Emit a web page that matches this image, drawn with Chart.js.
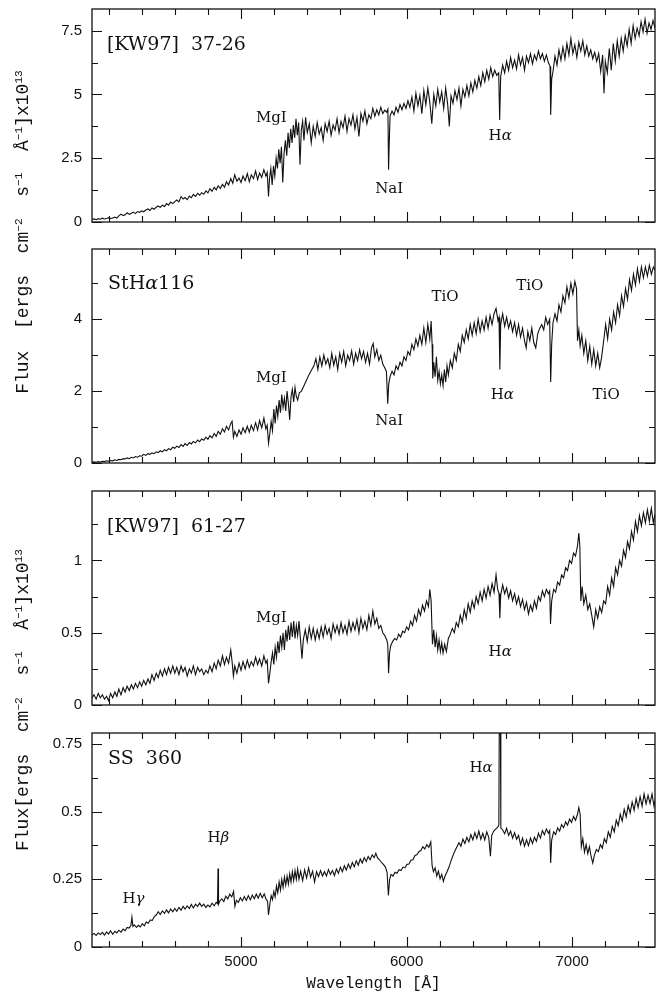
<!DOCTYPE html>
<html>
<head>
<meta charset="utf-8">
<script src="https://cdn.jsdelivr.net/npm/chart.js@4.4.0/dist/chart.umd.min.js"></script>
<style>
body { margin: 0; background: #fff; }
#wrap { position: relative; width: 663px; height: 996px; overflow: hidden; }
canvas { position: absolute; left: 0; }
.ytitle {
  position: absolute; left: 23px; white-space: pre; line-height: 1;
  font: 18px "Liberation Mono", monospace; color: #111;
  transform: translate(-50%, -50%) rotate(-90deg);
}
.ytitle sup { font-size: 62%; vertical-align: 0.55em; line-height: 0; }
</style>
</head>
<body>
<div id="wrap">
  <canvas id="p1"></canvas>
  <canvas id="p2"></canvas>
  <canvas id="p3"></canvas>
  <canvas id="p4"></canvas>
  <div class="ytitle" style="top:232px">Flux  [ergs  cm<sup>−2</sup>  s<sup>−1</sup>  Å<sup>−1</sup>]x10<sup>13</sup></div>
  <div class="ytitle" style="top:700px">Flux[ergs  cm<sup>−2</sup>  s<sup>−1</sup>  Å<sup>−1</sup>]x10<sup>13</sup></div>
</div>
<script>
// shared wavelength axis
const xMin = 4100, xMax = 7500;
const xMajor = [5000, 6000, 7000];
const xMinor = [4200, 4400, 4600, 4800, 5200, 5400, 5600, 5800, 6200, 6400, 6600, 6800, 7200, 7400];

// [KW97] 37-26  [wavelength, flux]
const spec1 = [
  [4100,.10],[4112,.12],[4125,.09],[4138,.13],[4150,.11],[4163,.15],[4175,.12],[4188,.14],[4200,.17],[4212,.13],
  [4225,.16],[4238,.19],[4250,.15],[4262,.24],[4275,.31],[4288,.25],[4300,.28],[4312,.36],[4325,.30],[4338,.34],
  [4350,.39],[4362,.33],[4375,.41],[4388,.38],[4400,.44],[4412,.40],[4425,.47],[4438,.51],[4450,.45],[4462,.55],
  [4475,.50],[4488,.58],[4500,.63],[4512,.57],[4525,.66],[4538,.61],[4550,.72],[4562,.66],[4575,.78],[4588,.72],
  [4600,.80],[4612,.86],[4625,.79],[4638,1.00],[4650,.90],[4662,.96],[4675,.88],[4688,1.02],[4700,.95],[4712,1.08],
  [4725,1.00],[4738,1.12],[4750,1.05],[4762,1.15],[4775,1.09],[4788,1.22],[4800,1.14],[4812,1.30],[4825,1.20],[4838,1.36],
  [4850,1.26],[4862,1.42],[4875,1.31],[4888,1.48],[4900,1.36],[4912,1.58],[4925,1.45],[4938,1.70],[4950,1.52],[4962,1.85],
  [4975,1.60],[4988,1.72],[5000,1.55],[5012,1.80],[5025,1.62],[5038,1.90],[5050,1.58],[5062,1.85],[5075,1.70],[5088,2.00],
  [5100,1.66],[5112,1.92],[5125,1.75],[5138,2.05],[5150,1.80],[5158,1.95],[5166,1.00],[5172,1.70],[5180,2.10],[5188,1.45],
  [5196,2.20],[5204,1.80],[5212,2.50],[5220,2.10],[5228,2.85],[5236,2.30],[5244,2.95],[5252,1.55],[5260,2.70],[5268,3.20],
  [5276,2.60],[5284,3.50],[5292,2.90],[5300,3.65],[5308,3.10],[5316,3.80],[5324,3.30],[5332,4.05],[5340,3.40],[5348,3.90],
  [5356,2.25],[5364,3.60],[5372,3.95],[5380,3.20],[5390,4.10],[5400,3.50],[5412,3.85],[5424,3.10],[5436,3.75],[5448,3.35],
  [5460,3.90],[5472,3.45],[5484,3.70],[5496,3.20],[5508,3.85],[5520,3.55],[5532,3.95],[5544,3.40],[5556,3.80],[5568,3.60],
  [5580,4.05],[5592,3.50],[5604,3.95],[5616,3.70],[5628,4.15],[5640,3.55],[5652,4.05],[5664,3.80],[5676,4.20],[5688,3.65],
  [5700,4.10],[5712,3.35],[5724,4.25],[5736,3.95],[5748,4.35],[5760,3.85],[5772,4.20],[5784,4.05],[5796,4.45],[5808,4.15],
  [5820,4.40],[5832,4.20],[5844,4.50],[5856,4.25],[5868,4.38],[5880,4.30],[5887,4.42],[5891,2.05],[5895,3.10],[5900,4.15],
  [5912,4.35],[5924,4.20],[5936,4.50],[5948,4.30],[5960,4.60],[5972,4.40],[5984,4.65],[5996,4.45],[6008,4.75],[6020,4.50],
  [6032,4.90],[6044,4.35],[6056,5.05],[6068,4.55],[6080,4.95],[6092,4.25],[6104,5.15],[6116,4.60],[6128,5.25],[6140,4.70],
  [6152,3.85],[6164,5.00],[6176,4.55],[6188,5.20],[6200,4.70],[6212,5.10],[6224,4.45],[6236,5.25],[6248,4.60],[6258,3.75],
  [6268,4.95],[6280,4.65],[6292,5.15],[6304,4.80],[6316,5.25],[6328,4.55],[6340,5.20],[6352,4.90],[6364,5.35],[6376,4.95],
  [6388,5.45],[6400,5.10],[6412,5.55],[6424,5.25],[6436,5.70],[6448,5.35],[6460,5.85],[6472,5.50],[6484,5.95],[6496,5.60],
  [6508,6.05],[6520,5.70],[6532,5.95],[6544,5.75],[6556,5.85],[6562,4.00],[6568,5.70],[6580,6.15],[6592,5.85],[6604,6.30],
  [6616,5.95],[6628,6.45],[6640,6.05],[6652,6.35],[6664,6.00],[6676,6.55],[6688,6.15],[6700,6.45],[6712,5.95],[6724,6.50],
  [6736,6.25],[6748,6.60],[6760,6.20],[6772,6.55],[6784,6.35],[6796,6.70],[6808,6.40],[6820,6.60],[6832,6.30],[6844,6.55],
  [6856,6.25],[6866,6.10],[6870,4.20],[6876,5.60],[6884,5.90],[6896,6.50],[6908,6.15],[6920,6.75],[6932,6.35],[6944,6.85],
  [6956,6.40],[6968,7.00],[6980,6.55],[6992,7.20],[7004,6.60],[7016,6.95],[7028,6.45],[7040,7.05],[7052,6.70],[7064,7.10],
  [7076,6.55],[7088,6.90],[7100,6.50],[7112,6.75],[7124,6.40],[7136,6.65],[7148,6.30],[7160,6.60],[7172,5.90],[7184,6.55],
  [7192,5.05],[7200,6.30],[7212,5.85],[7224,6.80],[7236,5.95],[7248,7.00],[7260,6.30],[7272,7.10],[7284,6.50],[7296,7.20],
  [7308,6.70],[7320,7.30],[7332,6.90],[7344,7.55],[7356,7.00],[7368,7.70],[7380,7.20],[7392,7.60],[7404,7.30],[7416,7.85],
  [7428,7.45],[7440,7.95],[7452,7.40],[7464,7.80],[7476,7.55],[7488,7.90],[7500,7.60]
];

// StHa 116
const spec2 = [
  [4100,.02],[4112,.03],[4125,.02],[4138,.04],[4150,.03],[4163,.05],[4175,.04],[4188,.06],[4200,.05],[4212,.07],
  [4225,.06],[4238,.09],[4250,.07],[4262,.10],[4275,.09],[4288,.12],[4300,.11],[4312,.14],[4325,.12],[4338,.16],
  [4350,.14],[4362,.18],[4375,.16],[4388,.20],[4400,.19],[4412,.24],[4425,.21],[4438,.26],[4450,.24],[4462,.28],
  [4475,.26],[4488,.31],[4500,.29],[4512,.34],[4525,.31],[4538,.37],[4550,.34],[4562,.40],[4575,.37],[4588,.44],
  [4600,.41],[4612,.47],[4625,.43],[4638,.51],[4650,.46],[4662,.54],[4675,.49],[4688,.57],[4700,.53],[4712,.60],
  [4725,.56],[4738,.64],[4750,.59],[4762,.67],[4775,.63],[4788,.72],[4800,.66],[4812,.76],[4825,.70],[4838,.82],
  [4850,.74],[4862,.88],[4875,.80],[4888,.95],[4900,.86],[4912,1.02],[4925,.92],[4938,1.10],[4946,1.16],[4954,.72],
  [4962,.88],[4975,.74],[4988,.92],[5000,.80],[5012,.98],[5025,.84],[5038,1.02],[5050,.86],[5062,1.05],[5075,.90],
  [5088,1.12],[5100,.92],[5112,1.18],[5125,.98],[5138,1.25],[5150,.95],[5158,1.05],[5166,.55],[5174,.82],[5182,1.15],
  [5190,.90],[5198,1.50],[5206,1.10],[5214,1.60],[5222,1.30],[5230,1.75],[5238,1.40],[5246,1.90],[5254,1.55],[5262,1.80],
  [5270,1.45],[5278,2.00],[5286,1.65],[5294,1.20],[5302,1.85],[5310,2.05],[5318,1.70],[5326,2.10],[5334,1.85],[5342,1.75],
  [5352,1.95],[5365,2.00],[5380,2.15],[5395,2.30],[5410,2.45],[5425,2.58],[5440,2.70],[5452,2.90],[5464,2.60],[5476,2.95],
  [5488,2.70],[5500,3.00],[5512,2.75],[5524,2.90],[5536,2.65],[5548,3.05],[5560,2.72],[5572,2.95],[5584,2.60],[5596,3.05],
  [5608,2.80],[5620,3.10],[5632,2.70],[5644,3.00],[5656,2.85],[5668,3.12],[5680,2.75],[5692,3.05],[5704,2.85],[5716,3.15],
  [5728,2.90],[5740,3.10],[5752,2.80],[5764,3.05],[5776,2.75],[5788,3.20],[5798,3.32],[5808,2.95],[5820,3.15],[5832,2.85],
  [5844,3.00],[5856,2.75],[5868,2.65],[5878,2.55],[5886,1.65],[5892,2.20],[5900,2.40],[5912,2.55],[5924,2.45],[5936,2.70],
  [5948,2.60],[5960,2.80],[5972,2.70],[5984,2.95],[5996,2.85],[6008,3.10],[6020,3.00],[6032,3.30],[6044,3.15],[6056,3.45],
  [6068,3.25],[6080,3.55],[6092,3.30],[6104,3.75],[6116,3.35],[6128,3.85],[6140,3.45],[6148,3.95],[6154,3.30],[6158,2.35],
  [6164,2.80],[6172,2.40],[6180,2.95],[6188,2.30],[6196,2.55],[6204,2.20],[6212,2.45],[6220,2.15],[6228,2.60],[6236,2.25],
  [6244,2.70],[6252,2.45],[6264,2.85],[6276,2.65],[6288,3.05],[6300,2.85],[6312,3.30],[6324,3.10],[6336,3.55],[6348,3.35],
  [6360,3.70],[6372,3.45],[6384,3.85],[6396,3.55],[6408,3.90],[6420,3.60],[6432,4.00],[6444,3.65],[6456,3.95],[6468,3.70],
  [6480,4.05],[6492,3.75],[6504,4.10],[6516,3.85],[6528,4.15],[6540,4.30],[6552,3.95],[6558,4.05],[6563,2.60],[6568,3.85],
  [6580,4.15],[6592,3.80],[6604,4.05],[6616,3.75],[6628,3.95],[6640,3.65],[6652,3.90],[6664,3.55],[6676,3.85],[6688,3.50],
  [6700,3.75],[6712,3.40],[6722,3.20],[6732,3.65],[6744,3.40],[6756,3.75],[6768,3.35],[6780,3.20],[6792,3.60],[6804,3.75],
  [6816,3.85],[6828,3.70],[6840,4.05],[6852,3.85],[6864,4.00],[6870,2.25],[6876,3.30],[6884,3.90],[6896,4.15],[6908,3.95],
  [6920,4.40],[6932,4.20],[6944,4.65],[6956,4.45],[6968,4.90],[6980,4.60],[6992,5.00],[7004,4.70],[7016,5.05],[7026,4.85],
  [7032,3.40],[7040,3.70],[7048,3.25],[7058,3.55],[7070,3.05],[7082,3.40],[7094,2.85],[7106,3.25],[7118,2.75],[7130,3.15],
  [7142,2.70],[7154,3.05],[7166,2.65],[7178,2.95],[7190,3.40],[7202,3.85],[7214,3.45],[7226,4.00],[7238,3.70],[7250,4.20],
  [7262,3.90],[7274,4.40],[7286,4.10],[7298,4.65],[7310,4.35],[7322,4.85],[7334,4.55],[7346,5.10],[7358,4.80],[7370,5.25],
  [7382,4.95],[7394,5.40],[7406,5.05],[7418,5.45],[7430,5.15],[7442,5.45],[7454,5.20],[7466,5.50],[7478,5.25],[7490,5.45],
  [7500,5.35]
];

// [KW97] 61-27
const spec3 = [
  [4100,.05],[4112,.07],[4125,.04],[4138,.08],[4150,.05],[4163,.07],[4175,.04],[4188,.06],[4200,.03],[4212,.08],
  [4225,.05],[4238,.09],[4250,.06],[4262,.11],[4275,.07],[4288,.12],[4300,.09],[4312,.13],[4325,.10],[4338,.14],
  [4350,.11],[4362,.15],[4375,.12],[4388,.16],[4400,.13],[4412,.17],[4425,.14],[4438,.18],[4450,.15],[4462,.21],
  [4475,.17],[4488,.22],[4500,.19],[4512,.24],[4525,.20],[4538,.25],[4550,.21],[4562,.26],[4575,.22],[4588,.27],
  [4600,.22],[4612,.26],[4625,.21],[4638,.27],[4650,.23],[4662,.26],[4675,.20],[4688,.25],[4700,.22],[4712,.27],
  [4725,.21],[4738,.26],[4750,.23],[4762,.25],[4775,.21],[4788,.24],[4800,.22],[4812,.27],[4825,.23],[4838,.29],
  [4850,.25],[4862,.31],[4875,.27],[4888,.34],[4900,.28],[4912,.33],[4925,.29],[4938,.38],[4946,.30],[4954,.20],
  [4962,.27],[4975,.22],[4988,.29],[5000,.24],[5012,.30],[5025,.25],[5038,.31],[5050,.26],[5062,.30],[5075,.27],
  [5088,.33],[5100,.28],[5112,.32],[5125,.27],[5138,.34],[5150,.29],[5158,.31],[5166,.15],[5174,.22],[5182,.30],
  [5190,.36],[5198,.28],[5206,.40],[5214,.33],[5222,.44],[5230,.36],[5238,.48],[5246,.40],[5254,.50],[5262,.38],
  [5270,.52],[5278,.44],[5286,.55],[5294,.45],[5302,.57],[5310,.47],[5318,.58],[5326,.46],[5334,.55],[5342,.48],
  [5350,.58],[5360,.44],[5368,.32],[5376,.45],[5388,.52],[5400,.44],[5412,.54],[5424,.46],[5436,.53],[5448,.45],
  [5460,.52],[5472,.46],[5484,.54],[5496,.47],[5508,.55],[5520,.49],[5532,.53],[5544,.46],[5556,.56],[5568,.50],
  [5580,.55],[5592,.49],[5604,.57],[5616,.50],[5628,.55],[5640,.49],[5652,.58],[5664,.51],[5676,.57],[5688,.52],
  [5700,.59],[5712,.50],[5724,.60],[5736,.53],[5748,.58],[5760,.52],[5772,.62],[5784,.55],[5796,.65],[5808,.56],
  [5820,.60],[5832,.53],[5844,.55],[5856,.50],[5868,.48],[5880,.45],[5886,.42],[5891,.22],[5897,.36],[5904,.41],
  [5916,.44],[5928,.46],[5940,.45],[5952,.49],[5964,.47],[5976,.51],[5988,.50],[6000,.54],[6012,.52],[6024,.58],
  [6036,.55],[6048,.62],[6060,.58],[6072,.66],[6084,.62],[6096,.69],[6108,.65],[6120,.72],[6132,.68],[6140,.80],
  [6148,.72],[6156,.42],[6164,.52],[6172,.40],[6180,.48],[6188,.38],[6196,.45],[6204,.37],[6212,.43],[6220,.36],
  [6230,.42],[6240,.37],[6252,.46],[6264,.49],[6276,.53],[6288,.50],[6300,.57],[6312,.54],[6324,.62],[6336,.57],
  [6348,.66],[6360,.60],[6372,.70],[6384,.64],[6396,.72],[6408,.67],[6420,.75],[6432,.70],[6444,.78],[6456,.72],
  [6468,.80],[6480,.74],[6492,.82],[6504,.76],[6516,.84],[6528,.78],[6540,.90],[6550,.80],[6558,.77],[6563,.60],
  [6568,.76],[6580,.83],[6592,.77],[6604,.81],[6616,.74],[6628,.79],[6640,.72],[6652,.77],[6664,.70],[6676,.75],
  [6688,.68],[6700,.73],[6712,.66],[6724,.71],[6736,.63],[6748,.69],[6760,.65],[6772,.72],[6784,.67],[6796,.75],
  [6808,.72],[6820,.79],[6832,.75],[6844,.80],[6856,.77],[6864,.79],[6869,.56],[6876,.72],[6888,.80],[6900,.78],
  [6912,.85],[6924,.83],[6936,.90],[6948,.88],[6960,.95],[6972,.93],[6984,1.00],[6996,.98],[7008,1.05],[7020,1.03],
  [7032,1.10],[7040,1.19],[7046,1.10],[7052,.72],[7060,.82],[7070,.70],[7082,.76],[7094,.66],[7106,.70],[7118,.62],
  [7130,.54],[7142,.66],[7154,.60],[7166,.68],[7178,.64],[7190,.72],[7202,.70],[7214,.82],[7226,.76],[7238,.88],
  [7250,.82],[7262,.95],[7274,.90],[7286,1.00],[7298,.96],[7310,1.07],[7322,1.02],[7334,1.13],[7346,1.08],[7358,1.20],
  [7370,1.14],[7382,1.27],[7394,1.20],[7406,1.31],[7418,1.24],[7430,1.33],[7442,1.26],[7454,1.35],[7466,1.27],[7478,1.36],
  [7490,1.26],[7500,1.32]
];

// SS 360
const spec4 = [
  [4100,.045],[4112,.050],[4125,.043],[4138,.052],[4150,.046],[4163,.054],[4175,.044],[4188,.056],[4200,.048],[4212,.060],
  [4225,.047],[4238,.058],[4250,.052],[4262,.062],[4275,.055],[4288,.066],[4300,.060],[4312,.072],[4325,.070],[4335,.080],
  [4341,.110],[4347,.076],[4356,.082],[4368,.072],[4380,.080],[4392,.074],[4404,.086],[4416,.078],[4428,.092],[4440,.088],
  [4452,.100],[4464,.098],[4476,.112],[4488,.118],[4500,.130],[4512,.120],[4525,.133],[4538,.124],[4550,.137],[4562,.126],
  [4575,.140],[4588,.130],[4600,.142],[4612,.132],[4625,.146],[4638,.136],[4650,.150],[4662,.140],[4675,.152],[4688,.142],
  [4700,.157],[4712,.144],[4725,.158],[4738,.150],[4750,.162],[4762,.150],[4775,.158],[4788,.146],[4800,.155],[4812,.148],
  [4825,.162],[4838,.152],[4850,.165],[4858,.160],[4861,.290],[4864,.158],[4872,.170],[4884,.178],[4896,.168],[4908,.188],
  [4920,.178],[4932,.195],[4944,.185],[4955,.205],[4963,.150],[4972,.172],[4984,.165],[4996,.182],[5008,.170],[5020,.186],
  [5032,.172],[5044,.190],[5056,.174],[5068,.192],[5080,.178],[5092,.195],[5104,.180],[5116,.198],[5128,.182],[5140,.196],
  [5152,.175],[5160,.170],[5166,.118],[5174,.158],[5182,.190],[5190,.175],[5198,.205],[5206,.185],[5214,.225],[5222,.200],
  [5230,.240],[5238,.210],[5246,.250],[5254,.220],[5262,.258],[5270,.228],[5278,.262],[5286,.232],[5294,.270],[5302,.240],
  [5310,.278],[5318,.245],[5326,.282],[5334,.250],[5342,.288],[5350,.250],[5360,.280],[5372,.245],[5384,.285],[5396,.255],
  [5408,.292],[5420,.258],[5432,.280],[5444,.240],[5456,.278],[5468,.260],[5480,.282],[5492,.262],[5504,.278],[5516,.262],
  [5528,.286],[5540,.268],[5552,.282],[5564,.264],[5576,.288],[5588,.272],[5600,.294],[5612,.278],[5624,.300],[5636,.284],
  [5648,.306],[5660,.290],[5672,.312],[5684,.296],[5696,.318],[5708,.302],[5720,.325],[5732,.310],[5744,.330],[5756,.316],
  [5768,.334],[5780,.322],[5792,.340],[5804,.330],[5814,.346],[5824,.330],[5836,.322],[5848,.312],[5860,.305],[5872,.295],
  [5882,.275],[5890,.190],[5897,.248],[5906,.268],[5918,.262],[5930,.276],[5942,.272],[5954,.285],[5966,.282],[5978,.295],
  [5990,.292],[6002,.305],[6014,.306],[6026,.320],[6038,.322],[6050,.338],[6062,.340],[6074,.352],[6086,.356],[6098,.370],
  [6110,.362],[6122,.378],[6134,.368],[6146,.388],[6154,.300],[6162,.278],[6172,.292],[6182,.262],[6192,.280],[6202,.252],
  [6212,.268],[6222,.242],[6232,.262],[6244,.278],[6256,.295],[6268,.318],[6280,.338],[6292,.355],[6304,.370],[6316,.385],
  [6328,.372],[6340,.398],[6352,.382],[6364,.405],[6376,.388],[6388,.415],[6400,.395],[6412,.422],[6424,.400],[6436,.428],
  [6448,.398],[6460,.420],[6472,.395],[6484,.425],[6496,.405],[6506,.335],[6514,.412],[6526,.428],[6538,.435],[6550,.442],
  [6557,.450],[6560,.900],[6566,.900],[6569,.440],[6580,.432],[6592,.418],[6604,.438],[6616,.412],[6628,.428],[6640,.402],
  [6652,.422],[6664,.398],[6676,.412],[6688,.378],[6700,.402],[6712,.372],[6724,.396],[6736,.374],[6748,.402],[6760,.382],
  [6772,.405],[6784,.390],[6796,.420],[6808,.402],[6820,.430],[6832,.414],[6844,.436],[6856,.420],[6864,.430],[6870,.310],
  [6876,.395],[6888,.425],[6900,.415],[6912,.440],[6924,.428],[6936,.452],[6948,.440],[6960,.462],[6972,.450],[6984,.472],
  [6996,.460],[7008,.482],[7020,.468],[7032,.490],[7040,.515],[7048,.490],[7055,.370],[7064,.400],[7074,.350],[7084,.378],
  [7094,.345],[7104,.370],[7114,.335],[7124,.310],[7134,.338],[7146,.360],[7158,.352],[7170,.378],[7182,.365],[7194,.400],
  [7206,.385],[7218,.425],[7230,.405],[7242,.445],[7254,.425],[7266,.468],[7278,.448],[7290,.490],[7302,.465],[7314,.508],
  [7326,.480],[7338,.522],[7350,.495],[7362,.535],[7374,.505],[7386,.548],[7398,.515],[7410,.555],[7422,.520],[7434,.565],
  [7446,.528],[7458,.560],[7470,.530],[7482,.565],[7494,.520],[7500,.540]
];

// y tick values per panel
const yMajor1 = [0, 2.5, 5, 7.5],       yMinor1 = [1.25, 3.75, 6.25];
const yMajor2 = [0, 2, 4],              yMinor2 = [1, 3, 5];
const yMajor3 = [0, 0.5, 1],            yMinor3 = [0.25, 0.75, 1.25];
const yMajor4 = [0, 0.25, 0.5, 0.75],   yMinor4 = [0.125, 0.375, 0.625];

// text labels: [text, wavelength, flux, isName]
const notes1 = [['[KW97]  37-26', 4190, 6.94, true], ['MgI', 5183, 4.08], ['NaI', 5895, 1.3], ['Hα', 6565, 3.36]];
const notes2 = [['StHα116', 4197, 4.98, true], ['MgI', 5183, 2.37], ['NaI', 5895, 1.16], ['TiO', 6232, 4.6],
                ['Hα', 6578, 1.9], ['TiO', 6744, 4.93], ['TiO', 7205, 1.9]];
const notes3 = [['[KW97]  61-27', 4190, 1.23, true], ['MgI', 5183, 0.6], ['Hα', 6565, 0.365]];
const notes4 = [['SS  360', 4197, 0.694, true], ['Hγ', 4351, 0.176], ['Hβ', 4863, 0.403], ['Hα', 6450, 0.661]];

const panels = [
  {id: 'p1', top: 9,   bottom: 222, yMax: 8.35, data: spec1, yMajor: yMajor1, yMinor: yMinor1, notes: notes1},
  {id: 'p2', top: 249, bottom: 463, yMax: 5.95, data: spec2, yMajor: yMajor2, yMinor: yMinor2, notes: notes2},
  {id: 'p3', top: 491, bottom: 705, yMax: 1.48, data: spec3, yMajor: yMajor3, yMinor: yMinor3, notes: notes3},
  {id: 'p4', top: 733, bottom: 947, yMax: 0.79, data: spec4, yMajor: yMajor4, yMinor: yMinor4, notes: notes4}
];

const ink = '#111';

// label text with greek letters in italic
function drawNote(ctx, text, px, py, size, alignLeft) {
  const runs = text.split(/([α-ω])/).filter(s => s.length);
  const fontOf = s => (/[α-ω]/.test(s) ? 'italic ' : '') + size + 'px "DejaVu Serif"';
  let w = 0;
  runs.forEach(s => { ctx.font = fontOf(s); w += ctx.measureText(s).width; });
  let cx = alignLeft ? px : px - w / 2;
  ctx.textAlign = 'left';
  runs.forEach(s => { ctx.font = fontOf(s); ctx.fillText(s, cx, py); cx += ctx.measureText(s).width; });
}

// box, inward ticks and line labels
const frameAndNotes = {
  id: 'frameAndNotes',
  afterDatasetsDraw(chart) {
    const p = panels.find(q => q.id === chart.canvas.id);
    const {ctx, chartArea: a, scales: {x, y}} = chart;
    ctx.save();
    ctx.strokeStyle = ink;
    ctx.lineWidth = 1.3;
    ctx.strokeRect(a.left, a.top, a.right - a.left, a.bottom - a.top);
    ctx.lineWidth = 1.1;
    ctx.beginPath();
    xMinor.concat(xMajor).forEach(v => {
      const px = Math.round(x.getPixelForValue(v)) + 0.5;
      const len = xMajor.includes(v) ? 10 : 6;
      ctx.moveTo(px, a.bottom); ctx.lineTo(px, a.bottom - len);
      ctx.moveTo(px, a.top); ctx.lineTo(px, a.top + len);
    });
    p.yMinor.concat(p.yMajor).forEach(v => {
      const py = Math.round(y.getPixelForValue(v)) + 0.5;
      const len = p.yMajor.includes(v) ? 10 : 6;
      ctx.moveTo(a.left, py); ctx.lineTo(a.left + len, py);
      ctx.moveTo(a.right, py); ctx.lineTo(a.right - len, py);
    });
    ctx.stroke();
    ctx.fillStyle = ink;
    ctx.textBaseline = 'middle';
    p.notes.forEach(([t, wl, f, isName]) => {
      drawNote(ctx, t, x.getPixelForValue(wl), y.getPixelForValue(f), isName ? 19 : 15, !!isName);
    });
    ctx.restore();
  }
};

const padT = 22;
panels.forEach((p, i) => {
  const last = i === panels.length - 1;
  const cv = document.getElementById(p.id);
  cv.width = 663;
  cv.height = last ? 996 - (p.top - padT) : (p.bottom - p.top) + 2 * padT;
  cv.style.top = (p.top - padT) + 'px';

  new Chart(cv, {
    type: 'line',
    data: {
      datasets: [{
        data: p.data.map(d => ({x: d[0], y: d[1]})),
        borderColor: ink,
        borderWidth: 1.1,
        pointRadius: 0,
        tension: 0,
        fill: false
      }]
    },
    options: {
      responsive: false,
      animation: false,
      devicePixelRatio: 1,
      layout: {padding: {top: padT, bottom: last ? 0 : padT, left: 0, right: 8}},
      plugins: {legend: {display: false}, tooltip: {enabled: false}},
      scales: {
        x: {
          type: 'linear',
          min: xMin,
          max: xMax,
          display: last,
          grid: {display: false, drawTicks: false},
          border: {display: false},
          ticks: {font: {family: 'Liberation Sans', size: 15}, color: ink, padding: 6, maxRotation: 0,
                  callback: v => String(v)},
          afterBuildTicks: s => { s.ticks = xMajor.map(v => ({value: v})); },
          afterFit: s => { if (last) s.height = 49; },
          title: {display: true, text: 'Wavelength [Å]', color: ink,
                  font: {family: 'Liberation Mono', size: 16}, padding: {top: 0, bottom: 3}}
        },
        y: {
          min: 0,
          max: p.yMax,
          grid: {display: false, drawTicks: false},
          border: {display: false},
          ticks: {font: {family: 'Liberation Sans', size: 15}, color: ink, padding: 10,
                  callback: v => String(v)},
          afterBuildTicks: s => { s.ticks = p.yMajor.map(v => ({value: v})); },
          afterFit: s => { s.width = 92; }
        }
      }
    },
    plugins: [frameAndNotes]
  });
});
</script>
</body>
</html>
